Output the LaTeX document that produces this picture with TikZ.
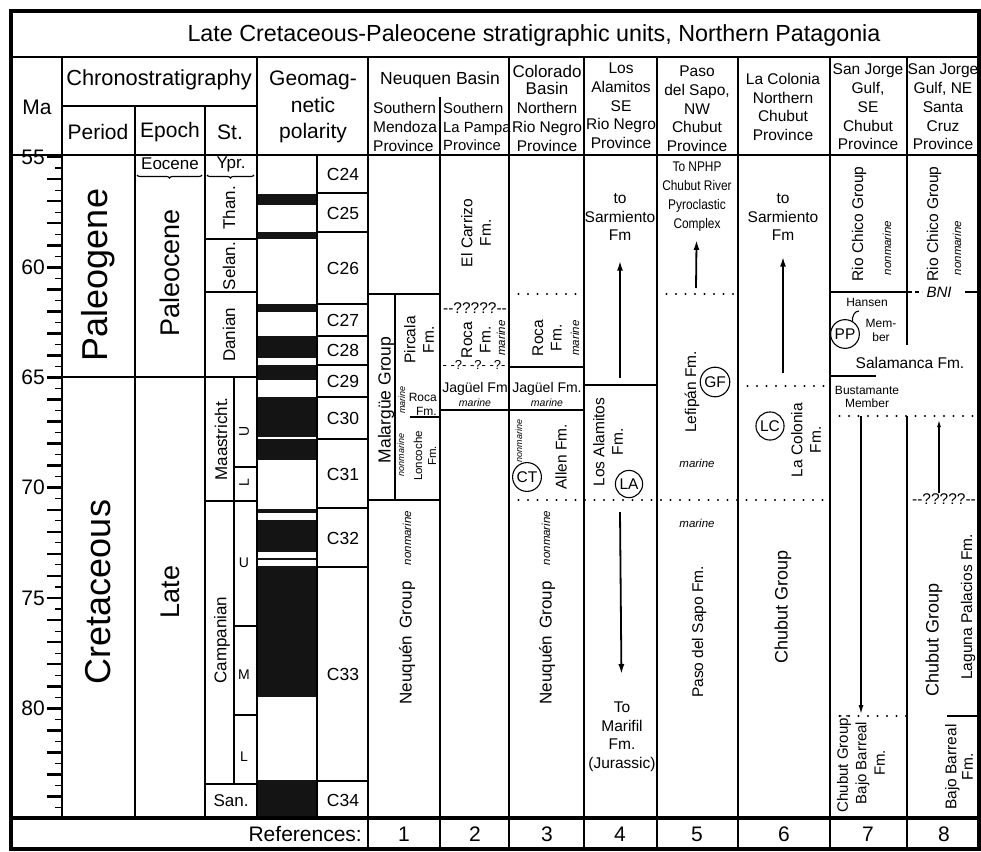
\documentclass[tikz,border=0pt]{standalone}
\usepackage{fontspec}
\setmainfont{Liberation Sans}
\usetikzlibrary{arrows.meta,shapes.geometric,decorations.pathreplacing}
\newcommand{\fsz}[2]{\fontsize{#1}{#2}\selectfont}

\begin{document}
\begin{tikzpicture}[x=1pt,y=-1pt,
  rule/.style={line width=1.1pt},
  bold/.style={line width=2.8pt},
  frame/.style={line width=3.6pt},
  dotline/.style={line width=2.2pt, dash pattern=on 0pt off 9.5pt, line cap=round},
  arr/.style={line width=1.8pt, -{Latex[length=10pt,width=6pt]}},
  hd/.style={font=\fsz{21}{26.5}, inner sep=0pt, align=center},
  sub/.style={font=\fsz{15.5}{18.7}, inner sep=0pt, align=center},
  fm/.style={font=\fsz{15.5}{18.5}, inner sep=0pt, align=center},
  grp/.style={font=\fsz{17.5}{21}, inner sep=0pt},
  env/.style={font=\itshape\fsz{11.5}{13}, inner sep=0pt},
  vert/.style={rotate=90},
  stg/.style={font=\fsz{17}{20}, inner sep=0pt},
  chron/.style={font=\fsz{17.5}{20}, inner sep=0pt},
  site/.style={circle, draw, line width=1.1pt, inner sep=2pt, font=\fsz{15.5}{17}}]

\useasboundingbox (0,0) rectangle (981,851);

% polarity
\foreach \a/\b in {194/205,232/239,304/312,336/358,365/380,397/437,439/460,
                   509/513,520/552,558/560,566/697,780/818}
  \fill[black!92] (257,\a) rectangle (317,\b);

% Ma scale
\foreach \m in {55,...,84}{
  \pgfmathsetmacro\ty{157+22.05*(\m-55)}
  \draw[line width=2.6pt] (47,\ty) -- (62,\ty);
  \draw[rule] (55,{\ty+11.025}) -- (62,{\ty+11.025});
}
\foreach \m in {55,60,...,80}{
  \pgfmathsetmacro\ty{157+22.05*(\m-55)}
  \node[hd, anchor=east] (ma\m) at (45,\ty) {\m};
}

% frame and columns
\draw[frame] (11,11) rectangle (979,849);
\draw[bold] (11,57) -- (979,57);
\draw[bold] (11,155) -- (979,155);
\draw[frame] (11,818) -- (979,818);
\draw[bold] (62,106) -- (257,106);
\draw[bold] (62,57) -- (62,818);
\draw[bold] (135,106) -- (135,818);
\draw[bold] (205,106) -- (205,818);
\draw[bold] (257,57) -- (257,818);
\draw[bold] (317,155) -- (317,818);
\draw[bold] (368,57) -- (368,849);
\draw[rule] (440,97) -- (440,849);
\draw[rule] (509,57) -- (509,849);
\draw[rule] (584,57) -- (584,849);
\draw[rule] (657,57) -- (657,849);
\draw[rule] (738,57) -- (738,849);
\draw[rule] (830,57) -- (830,849);
\draw[rule] (907,57) -- (907,345);
\draw[rule] (907,416) -- (907,849);

% chronostratigraphy
\draw[rule] (62,377) -- (257,377);
\foreach \y in {239,292,501,784}
  \draw[rule] (205,\y) -- (257,\y);
\foreach \y in {467,626,715}
  \draw[rule] (234,\y) -- (257,\y);
\draw[rule] (234,377) -- (234,784);
\foreach \y in {193,232,304,336,365,397,439,508,567,781}
  \draw[rule] (317,\y) -- (368,\y);
\draw[rule, decorate, decoration={brace, mirror, amplitude=3pt}] (137,175) -- (202,175);
\draw[rule, decorate, decoration={brace, mirror, amplitude=3pt}] (207,175) -- (254,175);

% formation boundaries
\draw[rule] (368,294) -- (440,294);
\draw[rule] (395,294) -- (395,500);
\draw[rule] (368,500) -- (440,500);
\draw[line width=2.2pt] (410,417) -- (439,417);
\draw[rule] (440,410) -- (584,410);
\draw[rule] (509,367) -- (584,367);
\draw[rule] (584,385) -- (657,385);
\draw[line width=1.8pt] (830,292) -- (907,292);
\draw[rule] (830,376) -- (876,376);
\draw[line width=2pt] (947,716) -- (979,716);
\draw[dotline] (509,294) -- (584,294);
\draw[dotline] (657,294) -- (738,294);
\draw[dotline] (738,386) -- (830,386);
\draw[dotline] (509,500) -- (830,500);
\draw[dotline] (830,416) -- (979,416);
\draw[dotline] (830,716) -- (907,716);

% header
\node[hd, font=\fsz{23.3}{26}] (title) at (534,35) {Late Cretaceous-Paleocene stratigraphic units, Northern Patagonia};
\node[hd] (ma) at (37,107) {Ma};
\node[hd, font=\fsz{21.8}{26}] (chrono) at (159,80) {Chronostratigraphy};
\node[hd] (period) at (98,132) {Period};
\node[hd] (epoch) at (170,132) {Epoch};
\node[hd] (st) at (230,132) {St.};
\node[hd] (geomag) at (313,107) {Geomag-\\netic\\polarity};
\node[grp] (nqn) at (440,80) {Neuquen Basin};
\node[sub, align=left, anchor=west] (mdz) at (373,127) {Southern\\Mendoza\\Province};
\node[sub, font=\fsz{14.8}{18.7}, align=left, anchor=west] (lpa) at (443,127) {Southern\\La Pampa\\Province};
\node[font=\fsz{17}{16.5}, inner sep=0pt, align=center] (colb) at (547,80) {Colorado\\Basin};
\node[sub] (nrn) at (547,127) {Northern\\Rio Negro\\Province};
\node[sub] (lah) at (621,106) {Los\\Alamitos\\SE\\Rio Negro\\Province};
\node[sub] (psh) at (697,109) {Paso\\del Sapo,\\NW\\Chubut\\Province};
\node[sub] (lch) at (783,107) {La Colonia\\Northern\\Chubut\\Province};
\node[sub] (sjh) at (868,107) {San Jorge\\Gulf,\\SE\\Chubut\\Province};
\node[sub] (sch) at (943,107) {San Jorge\\Gulf, NE\\Santa\\Cruz\\Province};

% periods, epochs, stages
\node[font=\fsz{36}{40}, inner sep=0pt, vert] (pgn) at (98,275) {Paleogene};
\node[font=\fsz{36}{40}, inner sep=0pt, vert] (cret) at (98,592) {Cretaceous};
\node[stg] (eoc) at (170,164) {Eocene};
\node[font=\fsz{27}{30}, inner sep=0pt, vert] (pal) at (170,273) {Paleocene};
\node[font=\fsz{27}{30}, inner sep=0pt, vert] (late) at (170,592) {Late};
\node[stg] (ypr) at (231,164) {Ypr.};
\node[stg, vert] (than) at (229,208) {Than.};
\node[stg, vert] (selan) at (229,266) {Selan.};
\node[stg, vert] (dan) at (229,335) {Danian};
\node[stg, vert] (maas) at (221,439) {Maastricht.};
\node[stg, vert] (camp) at (222,640) {Campanian};
\node[stg] (san) at (231,801) {San.};
\node[font=\fsz{14}{16}, inner sep=0pt, vert] (mu) at (244,431) {U};
\node[font=\fsz{14}{16}, inner sep=0pt, vert] (ml) at (244,483) {L};
\node[font=\fsz{14}{16}, inner sep=0pt] (cu) at (244,563) {U};
\node[font=\fsz{14}{16}, inner sep=0pt] (cm) at (244,675) {M};
\node[font=\fsz{14}{16}, inner sep=0pt] (cl) at (244,757) {L};

\foreach \n/\y in {24/174,25/213,26/268,27/320,28/350,29/381,30/418,31/474,32/538,33/674,34/800}
  \node[chron] (c\n) at (343,\y) {C\n};

% 1 Southern Mendoza
\node[grp, vert] (malg) at (386,400) {Malargüe Group};
\node[fm, vert] (pirc) at (419,340) {Pircala\\Fm.};
\node[env, font=\itshape\fsz{9}{10}, vert] (mar1) at (402,400) {marine};
\node[font=\fsz{12}{14}, inner sep=0pt, align=right, anchor=east] (roca1) at (437,404) {Roca\\Fm.};
\node[env, font=\itshape\fsz{9}{10}, vert] (non1) at (401,455) {nonmarine};
\node[font=\fsz{11.5}{14}, inner sep=0pt, align=center, vert] (lonc) at (425,456) {Loncoche\\Fm.};
\node[font=\fsz{17}{20}, inner sep=0pt, vert] (nqg1) at (407,643) {Neuquén\hspace{0.4em}Group};
\node[env, vert] (non1b) at (407,538) {nonmarine};

% 2 Southern La Pampa
\node[fm, vert] (carr) at (476,233) {El Carrizo\\Fm.};
\node[fm] (q2) at (475,308) {-{}-?????-{}-};
\node[fm, vert] (roca2) at (476,340) {Roca\\Fm.};
\node[env, vert] (mar2) at (501,338) {marine};
\node[font=\fsz{13}{15}, inner sep=0pt] (q2b) at (474,365) {- -?- -?- -?-};
\node[font=\fsz{14}{16}, inner sep=0pt] (jag2) at (475,389) {Jagüel Fm};
\node[env, font=\itshape\fsz{10.5}{12}] (mar2b) at (475,403) {marine};

% 3 Northern Rio Negro
\node[fm, vert] (roca3) at (547,338) {Roca\\Fm.};
\node[env, vert] (mar3) at (575,338) {marine};
\node[font=\fsz{14}{16}, inner sep=0pt] (jag3) at (547,389) {Jagüel Fm.};
\node[env, font=\itshape\fsz{10.5}{12}] (mar3b) at (547,403) {marine};
\node[env, font=\itshape\fsz{9}{10}, vert] (non3) at (519,441) {nonmarine};
\node[site] (ct) at (527,477) {CT};
\node[fm, vert] (allen) at (561,457) {Allen Fm.};
\node[font=\fsz{17}{20}, inner sep=0pt, vert] (nqg3) at (547,643) {Neuquén\hspace{0.4em}Group};
\node[env, vert] (non3b) at (546,538) {nonmarine};

% 4 Los Alamitos
\node[fm] (sar4) at (620,217) {to\\Sarmiento\\Fm};
\coordinate (a4) at (620,378);
\draw[arr, shorten >=20pt] (a4) -- (sar4);
\node[fm, vert] (lalf) at (608,442) {Los Alamitos\\Fm.};
\node[site] (la) at (629,484) {LA};
\node[fm] (marf) at (622,737) {To\\Marifil\\Fm.\\(Jurassic)};
\coordinate (b4) at (620,512);
\draw[arr, shorten >=28pt] (b4) -- (marf);

% 5 Paso del Sapo
\node[font=\fsz{14}{19}, inner sep=0pt, align=center, xscale=0.85] (nphp) at (697,197) {To NPHP\\Chubut River\\Pyroclastic\\Complex};
\coordinate (a5) at (696,288);
\draw[arr, shorten >=8pt] (a5) -- (nphp);
\node[fm, vert] (lef) at (692,392) {Lefipán Fm.};
\node[site] (gf) at (715,382) {GF};
\node[env] (mar5) at (697,463) {marine};
\node[env] (mar5b) at (697,523) {marine};
\node[fm, vert] (psf) at (699,632) {Paso del Sapo Fm.};

% 6 La Colonia
\node[fm] (sar6) at (783,217) {to\\Sarmiento\\Fm};
\coordinate (a6) at (783,373);
\draw[arr, shorten >=16pt] (a6) -- (sar6);
\node[site] (lc) at (770,426) {LC};
\node[fm, vert] (lcf) at (806,440) {La Colonia\\Fm.};
\node[font=\fsz{18}{21}, inner sep=0pt, vert] (chg6) at (783,607) {Chubut Group};

% 7 San Jorge Gulf, SE Chubut
\node[fm, vert] (rch7) at (859,224) {Rio Chico Group};
\node[env, vert] (non7) at (887,248) {nonmarine};
\node[font=\fsz{12}{14}, inner sep=0pt] (hans) at (867,302) {Hansen};
\node[site] (pp) at (845,334) {PP};
\coordinate (hk) at (859,311);
\draw[rule] (pp.60) to[out=95,in=180] (hk);
\node[font=\fsz{12}{14}, inner sep=0pt, align=center] (memb) at (881,330) {Mem-\\ber};
\node[fm] (sala) at (910,363) {Salamanca Fm.};
\node[font=\fsz{12}{13.5}, inner sep=0pt, align=center] (bust) at (867,397) {Bustamante\\Member};
\coordinate (a7) at (861,416);
\coordinate (b7) at (861,714);
\draw[line width=1.3pt, -{Latex[length=9pt,width=5pt]}] (a7) -- (b7);
\node[font=\fsz{15}{18.5}, inner sep=0pt, align=center, vert] (bb7) at (861,763) {Chubut Group;\\Bajo Barreal\\Fm.};

% 8 San Jorge Gulf, NE Santa Cruz
\node[fm, vert] (rch8) at (934,224) {Rio Chico Group};
\node[env, vert] (non8) at (957,248) {nonmarine};
\draw[rule, dash pattern=on 4pt off 3pt] (908,292) -- (922,292);
\node[font=\itshape\fsz{15}{17}, inner sep=0pt] (bni) at (939,292) {BNI};
\draw[rule] (965,292) -- (978,292);
\node[fm] (q8) at (944,499) {-{}-?????-{}-};
\coordinate (a8) at (939,420);
\draw[line width=1.2pt, -{Latex[length=7pt,width=4pt]}] (q8.north -| a8) -- (a8);
\node[font=\fsz{18}{21}, inner sep=0pt, vert] (chg8) at (934,640) {Chubut Group};
\node[fm, vert] (lpf) at (968,607) {Laguna Palacios Fm.};
\node[font=\fsz{15.5}{16.5}, inner sep=0pt, align=center, vert] (bb8) at (959,767) {Bajo Barreal\\Fm.};

% references
\node[hd, anchor=east] (refs) at (362,834) {References:};
\foreach \n/\x in {1/404,2/475,3/547,4/620,5/697,6/784,7/868,8/944}
  \node[hd] (r\n) at (\x,834) {\n};

\end{tikzpicture}
\end{document}
